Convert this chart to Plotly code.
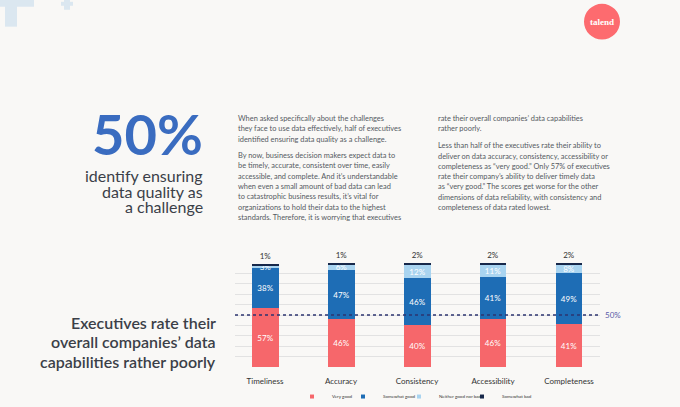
import plotly.graph_objects as go

categories = ["Timeliness", "Accuracy", "Consistency", "Accessibility", "Completeness"]
very_good = [57, 46, 40, 46, 41]
somewhat_good = [38, 47, 46, 41, 49]
neither = [3, 6, 12, 11, 8]
somewhat_bad = [1, 1, 2, 2, 2]

series_names = ["Very good", "Somewhat good", "Neither good nor bad", "Somewhat bad"]
colors = ["#f6676b", "#1e6db5", "#a9d4f0", "#17284a"]

W, H = 680, 407
L, R, T, B = 235, 600, 262.7, 367.3   # plot area in pixels
FONT = "Lato"
TEXT = "#3b3f48"
BG = "#f9f8f6"

def px(x):
    return (x - L) / (R - L)

def py(y):
    return (B - y) / (B - T)

legend_ids = ["legend", "legend2", "legend3", "legend4"]
legend_left = [292, 343, 399, 462]   # one small legend per series

fig = go.Figure()
for i, (name, vals) in enumerate(zip(series_names, [very_good, somewhat_good, neither, somewhat_bad])):
    last = i == 3
    fig.add_trace(go.Bar(
        x=categories, y=vals, name=name, legendgroup=name, showlegend=False,
        marker=dict(color=colors[i], line=dict(width=0)),
        width=0.355,
        texttemplate="%{y}%",
        textposition="outside" if last else "inside",
        insidetextanchor="middle",
        textfont=dict(color="#333333" if last else "white", size=8, family=FONT),
        cliponaxis=False,
        hoverinfo="skip",
    ))
# small square legend keys
for name, c, lg in zip(series_names, colors, legend_ids):
    fig.add_trace(go.Scatter(x=[None], y=[None], mode="markers", name=name, legendgroup=name,
                             legend=lg, marker=dict(symbol="square", size=4, color=c)))

# 50% reference line
fig.add_shape(type="line", xref="paper", yref="y", x0=0, x1=0.995, y0=50, y1=50,
              line=dict(color="#2d3570", width=1.6, dash="dot"))

anns = []
anns.append(dict(text="50%", x=px(603), y=50, xref="paper", yref="y", xanchor="left",
                 showarrow=False, font=dict(size=8, color="#5a5aa8", family=FONT)))

def lines(x, y0, step, rows, anchor, font):
    for k, row in enumerate(rows):
        anns.append(dict(text=row, x=px(x), y=py(y0 + k * step), xref="paper", yref="paper",
                         xanchor=anchor, yanchor="middle", showarrow=False, font=font))

# big headline
anns.append(dict(text="<b>50%</b>", x=px(205), y=py(132.5), xref="paper", yref="paper",
                 xanchor="right", yanchor="middle", showarrow=False,
                 font=dict(size=56, color="#3a6cc0", family=FONT)))
lines(205, 175, 15.5, ["identify ensuring", "data quality as", "a challenge"], "right",
      dict(size=16, color=TEXT, family=FONT))
lines(218, 322.5, 19.5, ["Executives rate their", "overall companies\u2019 data", "capabilities rather poorly"],
      "right", dict(size=16, color=TEXT, family=FONT, weight=600))

para_font = dict(size=7.4, color="#555a62", family=FONT)
lines(236, 117, 10.5, [
    "When asked specifically about the challenges",
    "they face to use data effectively, half of executives",
    "identified ensuring data quality as a challenge.",
], "left", para_font)
lines(236, 154.3, 10.5, [
    "By now, business decision makers expect data to",
    "be timely, accurate, consistent over time, easily",
    "accessible, and complete. And it\u2019s understandable",
    "when even a small amount of bad data can lead",
    "to catastrophic business results, it\u2019s vital for",
    "organizations to hold their data to the highest",
    "standards. Therefore, it is worrying that executives",
], "left", para_font)
lines(436, 117, 10.5, [
    "rate their overall companies\u2019 data capabilities",
    "rather poorly.",
], "left", para_font)
lines(436, 145, 10.3, [
    "Less than half of the executives rate their ability to",
    "deliver on data accuracy, consistency, accessibility or",
    "completeness as \u201cvery good.\u201d Only 57% of executives",
    "rate their company\u2019s ability to deliver timely data",
    "as \u201cvery good.\u201d The scores get worse for the other",
    "dimensions of data reliability, with consistency and",
    "completeness of data rated lowest.",
], "left", para_font)

# logo
fig.add_shape(type="circle", xref="paper", yref="paper", x0=px(584), x1=px(620), y0=py(2), y1=py(38),
              fillcolor="#fd6b6f", line=dict(width=0))
anns.append(dict(text="<b>talend</b>", x=px(602), y=py(20), xref="paper", yref="paper",
                 xanchor="center", yanchor="middle",
                 showarrow=False, font=dict(size=9, color="white", family="Liberation Serif")))

# decorative crosses
for x0, x1, y0, y1 in [(5, 17, -2, 25), (0, 34, -2, 5), (64, 70, -2, 8), (61, 73, 0, 4)]:
    fig.add_shape(type="rect", xref="paper", yref="paper", x0=px(x0), x1=px(x1), y0=py(y0), y1=py(y1),
                  fillcolor="#dbe7f0", line=dict(width=0), layer="below")

legend_style = dict(orientation="h", xanchor="left", yanchor="middle", y=py(397),
                    font=dict(size=4.5, color="#333", family=FONT), itemwidth=30,
                    bgcolor="rgba(0,0,0,0)")
fig.update_layout(
    width=W, height=H, autosize=False,
    margin=dict(l=L, r=W - R, t=T, b=H - B, pad=0, autoexpand=False),
    paper_bgcolor=BG, plot_bgcolor=BG,
    barmode="stack", bargap=0,
    showlegend=True,
    uniformtext=dict(mode="show", minsize=8),
    annotations=anns,
    font=dict(family=FONT, color=TEXT),
)
for lg, x in zip(legend_ids, legend_left):
    fig.update_layout({lg: dict(legend_style, x=px(x))})

fig.update_xaxes(range=[-0.395, 4.408], showgrid=False, showline=False, zeroline=False,
                 ticks="", tickfont=dict(size=8, color="#333", family=FONT), ticklabelstandoff=8)
fig.update_yaxes(range=[0, 100], dtick=10, showgrid=True, gridcolor="#e2e2e2", gridwidth=1,
                 showticklabels=False, zeroline=False, showline=False)

fig.write_html("out.html", config={"displayModeBar": False},
               post_script="document.body.style.margin='0';document.body.style.background='%s';" % BG)
